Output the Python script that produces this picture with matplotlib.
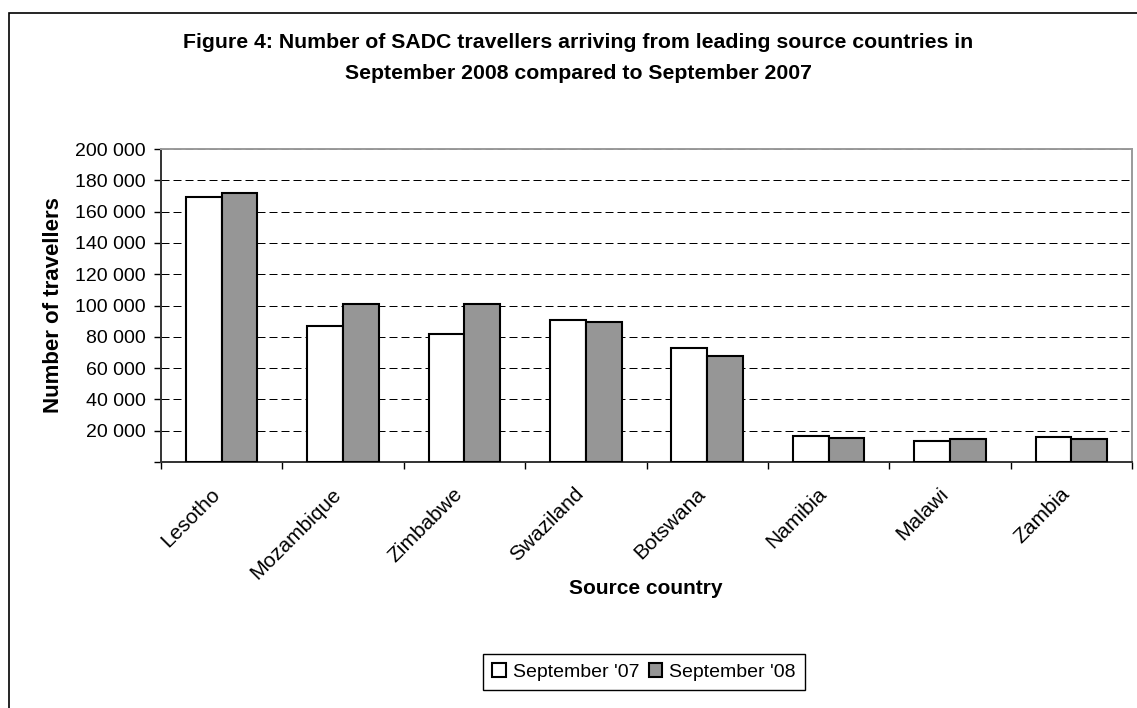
import matplotlib
matplotlib.use('Agg')
import matplotlib.pyplot as plt
from matplotlib.patches import Rectangle
from matplotlib.transforms import ScaledTranslation
import numpy as np

plt.rcParams['font.family'] = ['Liberation Sans', 'DejaVu Sans']

# data
countries = ['Lesotho', 'Mozambique', 'Zimbabwe', 'Swaziland', 'Botswana',
             'Namibia', 'Malawi', 'Zambia']
sep_07 = [169500, 86700, 81600, 90700, 73100, 16900, 13200, 15800]
sep_08 = [172100, 100700, 100700, 89300, 68000, 15400, 14700, 14500]
series_names = ["September '07", "September '08"]
yticks = list(range(0, 200001, 20000))

fig = plt.figure(figsize=(11.37, 7.08), dpi=100)
ax = fig.add_axes([161/1137, 1-462/708, (1132-161)/1137, (462-149)/708])

x = np.arange(len(countries))
w = 0.295
ax.bar(x - w/2, sep_07, w, color='white', edgecolor='black', linewidth=1.5,
       label=series_names[0], zorder=3)
ax.bar(x + w/2, sep_08, w, color='#969696', edgecolor='black', linewidth=1.5,
       label=series_names[1], zorder=3)

ax.set_xlim(-0.5, len(countries) - 0.5)
ax.set_ylim(0, 200000)
ax.set_yticks(yticks)
ax.set_yticklabels(['' if v == 0 else f'{v:,}'.replace(',', ' ') for v in yticks],
                   fontsize=14)
ax.yaxis.grid(True, color='black', linewidth=0.72, linestyle=(0, (8, 4)), zorder=0)
ax.set_axisbelow(True)

# category ticks on the boundaries, labels at the centres
ax.set_xticks(np.arange(len(countries) + 1) - 0.5)
ax.set_xticklabels([])
ax.set_xticks(x, minor=True)
ax.set_xticklabels(countries, minor=True, rotation=45, ha='right', va='center',
                   rotation_mode='anchor', fontsize=15)
ax.tick_params(axis='x', which='minor', length=0, pad=21)
ax.tick_params(axis='x', which='major', length=5, width=1, direction='out')
ax.tick_params(axis='y', length=5, width=1, direction='out', pad=6)
shift = ScaledTranslation(-5/100, 0, fig.dpi_scale_trans)
for lab in ax.get_xticklabels(minor=True):
    lab.set_transform(lab.get_transform() + shift)

for s in ['left', 'bottom']:
    ax.spines[s].set_color('#333333')
    ax.spines[s].set_linewidth(1.4)
for s in ['top', 'right']:
    ax.spines[s].set_color('#9a9a9a')
    ax.spines[s].set_linewidth(1.4)

ax.set_ylabel('Number of travellers', fontsize=16, fontweight='bold', labelpad=8)
fig.text(0.568, 1-588/708, 'Source country', fontsize=15, fontweight='bold',
         ha='center', va='center')

fig.text(578/1137, 1-58/708,
         'Figure 4: Number of SADC travellers arriving from leading source countries in\n'
         'September 2008 compared to September 2007',
         fontsize=15.3, fontweight='bold', ha='center', va='center', linespacing=1.85)

leg = fig.legend(loc='center', bbox_to_anchor=(644/1137, 1-672/708), ncol=2,
                 fontsize=14, fancybox=False, edgecolor='black', framealpha=1,
                 handlelength=0.7, handleheight=0.7, handletextpad=0.35,
                 columnspacing=0.5, borderpad=0.45)
leg.get_frame().set_linewidth(1)

fig.patches.append(Rectangle((9/1137, -0.1), 1.2, 1.1 - 13/708, fill=False,
                             edgecolor='black', linewidth=1.2,
                             transform=fig.transFigure, figure=fig))

fig.savefig('out.png', dpi=100)
